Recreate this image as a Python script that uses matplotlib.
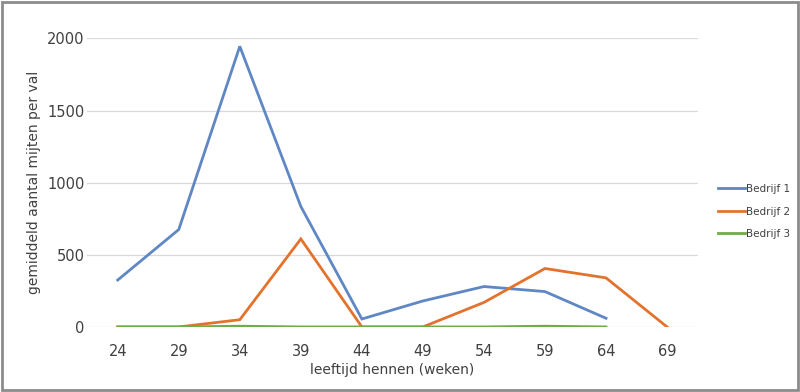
import matplotlib.pyplot as plt
import numpy as np
from matplotlib.patches import Rectangle

# leeftijd hennen (weken)
weeks = ["24", "29", "34", "39", "44", "49", "54", "59", "64", "69"]
bedrijf1 = [325, 675, 1945, 835, 55, 180, 280, 245, 60, np.nan]
bedrijf2 = [0, 0, 50, 610, 0, 0, 170, 405, 340, 0]
bedrijf3 = [0, 0, 5, 0, 0, 0, 0, 5, 0, np.nan]

series = [
    ("Bedrijf 1", bedrijf1, "#5f87c4"),
    ("Bedrijf 2", bedrijf2, "#e3732c"),
    ("Bedrijf 3", bedrijf3, "#6fad46"),
]

fig = plt.figure(figsize=(8, 3.92), dpi=100)
ax = fig.add_axes([0.109, 0.166, 0.763, 0.736])

x = np.arange(len(weeks))
for label, vals, color in series:
    ax.plot(x, vals, color=color, linewidth=2.0, label=label, solid_joinstyle="miter")

ax.set_xlim(-0.5, len(weeks) - 0.5)
ax.set_ylim(0, 2000)
ax.set_yticks([0, 500, 1000, 1500, 2000])
ax.set_xticks(x)
ax.set_xticklabels(weeks)
ax.grid(axis="y", color="#d9d9d9", linewidth=0.9)
ax.set_axisbelow(True)
for s in ax.spines.values():
    s.set_visible(False)
ax.tick_params(length=0, labelsize=10.5, colors="#404040", pad=12)
ax.tick_params(axis="y", pad=2)

ax.set_xlabel("leeftijd hennen (weken)", fontsize=10, color="#404040", labelpad=3)
ax.set_ylabel("gemiddeld aantal mijten per val", fontsize=10, color="#404040", labelpad=4)

ax.legend(loc="center left", bbox_to_anchor=(1.018, 0.40), frameon=False,
          fontsize=7.5, handlelength=2.6, handletextpad=0.1, labelspacing=1.2,
          labelcolor="#404040")

fig.patches.append(Rectangle((0.002, 0.004), 0.996, 0.992, transform=fig.transFigure,
                             fill=False, edgecolor="#8c8c8c", linewidth=2.0))

fig.savefig("out.png", dpi=100)
